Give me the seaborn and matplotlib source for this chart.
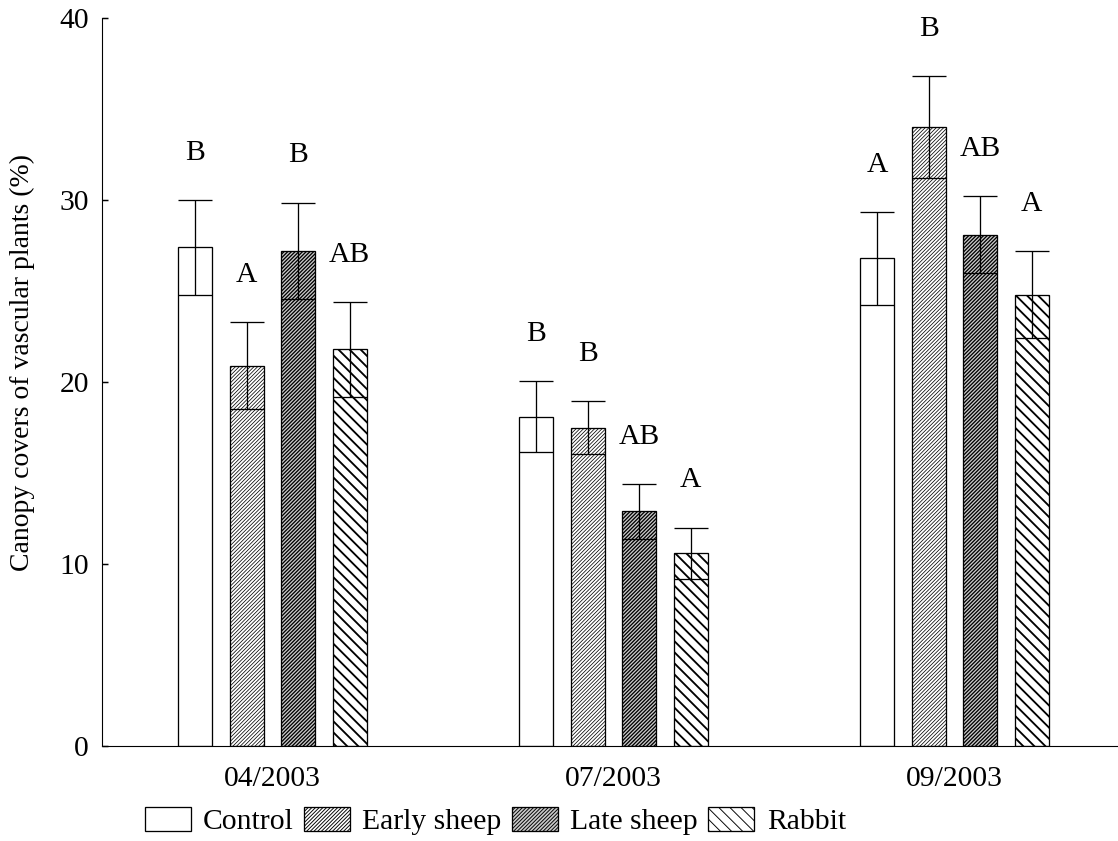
import matplotlib
matplotlib.use("Agg")
import matplotlib.pyplot as plt
import seaborn as sb
import pandas as pd

dates = ["04/2003", "07/2003", "09/2003"]
treatments = ["Control", "Early sheep", "Late sheep", "Rabbit"]

control = [27.4, 18.1, 26.8]
early_sheep = [20.9, 17.5, 34.0]
late_sheep = [27.2, 12.9, 28.1]
rabbit = [21.8, 10.6, 24.8]

control_se = [2.6, 1.95, 2.55]
early_sheep_se = [2.4, 1.45, 2.8]
late_sheep_se = [2.65, 1.5, 2.1]
rabbit_se = [2.6, 1.4, 2.4]

control_letters = ["B", "B", "A"]
early_sheep_letters = ["A", "B", "B"]
late_sheep_letters = ["B", "AB", "AB"]
rabbit_letters = ["AB", "A", "A"]

means = [control, early_sheep, late_sheep, rabbit]
ses = [control_se, early_sheep_se, late_sheep_se, rabbit_se]
letters = [control_letters, early_sheep_letters, late_sheep_letters, rabbit_letters]

rows = []
for t, vals in zip(treatments, means):
	for d, v in zip(dates, vals):
		rows.append({"date": d, "treatment": t, "cover": v})
df = pd.DataFrame(rows)

sb.set_style("ticks")
plt.rcParams["font.family"] = ["Liberation Serif", "DejaVu Serif"]
plt.rcParams["hatch.linewidth"] = 0.5
plt.rcParams["hatch.color"] = "black"
for k in ("text.color", "axes.labelcolor", "xtick.color", "ytick.color"):
	plt.rcParams[k] = "black"

fig = plt.figure(figsize=(1118 / 133.33, 841 / 133.33), dpi=133.33)
ax = fig.add_axes([102 / 1118, 1 - 746 / 841, 1016 / 1118, 728 / 841])

colors = {"Control": "white", "Early sheep": "white", "Late sheep": "#cacaca", "Rabbit": "white"}
hatches = ["", "/" * 12, "/" * 12, "\\" * 4]
hatch_widths = [0.5, 0.4, 0.7, 1.0]

sb.barplot(data=df, x="date", y="cover", hue="treatment", order=dates,
	hue_order=treatments, palette=colors, width=0.604, gap=0.338,
	edgecolor="black", linewidth=0.7, errorbar=None, legend=False, ax=ax)

bars = list(ax.containers)

for cont, h, hw, m, s, lets in zip(bars, hatches, hatch_widths, means, ses, letters):
	xs = []
	for p in cont.patches:
		p.set_hatch(h)
		p.set_edgecolor("black")
		if hasattr(p, "set_hatch_linewidth"):
			p.set_hatch_linewidth(hw)
		xs.append(p.get_x() + p.get_width() / 2)
	ax.errorbar(xs, m, yerr=s, fmt="none", ecolor="black", elinewidth=0.7,
		capsize=9.2, capthick=0.7, zorder=5)
	for x, v, e, l in zip(xs, m, s, lets):
		ax.text(x, v + e + 2.6, l, ha="center", va="center", fontsize=16)

ax.set_xlim(-0.5, 2.48)
ax.set_ylim(0, 40)
ax.set_yticks(range(0, 41, 10))
ax.set_xlabel("")
ax.set_ylabel("Canopy covers of vascular plants (%)", fontsize=15)
ax.yaxis.set_label_coords(-0.066, 0.527)
ax.tick_params(axis="x", length=0, pad=11, labelsize=16)
ax.tick_params(axis="y", direction="in", length=3, pad=7, labelsize=16)
for side in ("top", "right"):
	ax.spines[side].set_visible(False)
for side in ("left", "bottom"):
	ax.spines[side].set_linewidth(0.6)
	ax.spines[side].set_color("black")

handles = [c.patches[0] for c in bars]
fig.legend(handles, treatments, loc="center", bbox_to_anchor=(0.443, 0.0238),
	ncol=4, frameon=False, fontsize=16, handlelength=1.55, handleheight=0.88,
	handletextpad=0.42, columnspacing=0.35, borderpad=0)

fig.savefig("out.png", dpi=133.33)
